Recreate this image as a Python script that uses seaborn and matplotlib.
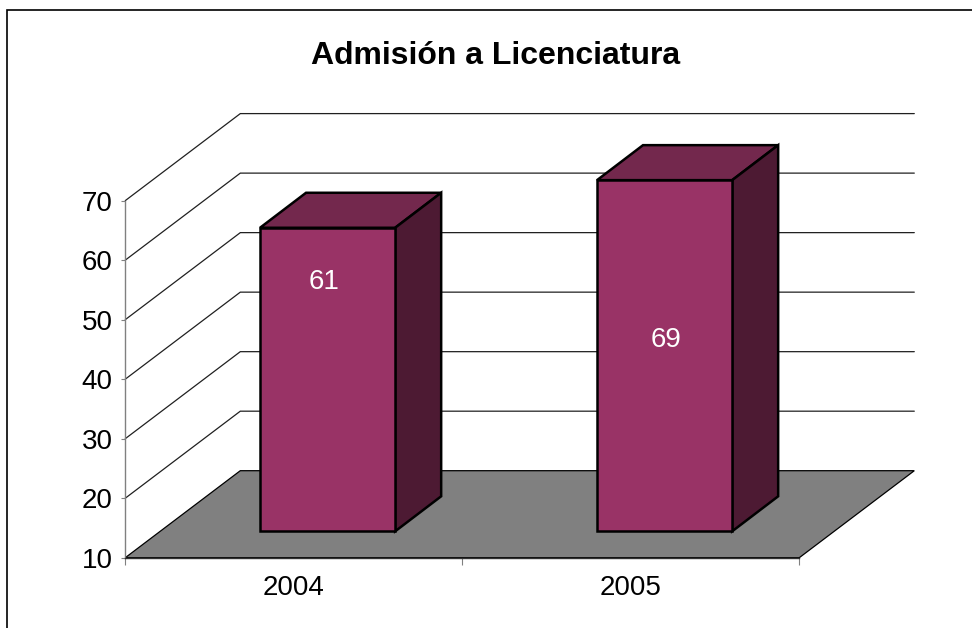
import matplotlib
matplotlib.use("Agg")
import matplotlib.pyplot as plt
import seaborn as sns
import pandas as pd
from matplotlib.lines import Line2D
from matplotlib.patches import Polygon

years = ["2004", "2005"]
values = [61, 69]
y_ticks = [10, 20, 30, 40, 50, 60, 70]
title = "Admisión a Licenciatura"

W, H = 972, 628
sns.set_theme(style="white")
plt.rcParams["font.family"] = ["Liberation Sans", "DejaVu Sans"]
plt.rcParams["text.color"] = "black"

fig = plt.figure(figsize=(W / 100, H / 100), dpi=100, facecolor="white")
L, R, T, B = 125.3, 799.3, 200.6, 557.7
ax = fig.add_axes([L / W, 1 - B / H, (R - L) / W, (B - T) / H])
ax.patch.set_alpha(0)

px_x = (R - L) / 2          # pixels per category
px_y = (B - T) / 60         # pixels per value unit
ddx, ddy = 115 / px_x, 87 / px_y          # wall depth
bdx, bdy = 33.8 / px_x, 26.4 / px_y       # bar front offset
cdx, cdy = 46 / px_x, 35 / px_y           # bar depth
base = y_ticks[0]
x0, x1 = -0.5, 1.5
EDGE = 1.8

df = pd.DataFrame({"year": years, "value": values})
sns.barplot(data=df, x="year", y="value", color="#993366", saturation=1,
            width=0.401, edgecolor="black", linewidth=EDGE, ax=ax, zorder=5)
ax.set_xlim(x0, x1)
ax.set_ylim(base, y_ticks[-1])
ax.set_xlabel("")
ax.set_ylabel("")

# floor
ax.add_patch(Polygon([(x0, base), (x1, base), (x1 + ddx, base + ddy), (x0 + ddx, base + ddy)],
                     closed=True, facecolor="#808080", edgecolor="black", linewidth=0.9,
                     clip_on=False, zorder=1))
# walls
for t in y_ticks[1:]:
    ax.plot([x0, x0 + ddx, x1 + ddx], [t, t + ddy, t + ddy], color="#202020",
            linewidth=0.9, clip_on=False, zorder=0.5, solid_joinstyle="miter")

# 3D bars
for p, v in zip(list(ax.patches), values):
    xa = p.get_x() + bdx
    xb = xa + p.get_width()
    ya, yb = base + bdy, v + bdy
    p.set_x(xa)
    p.set_y(ya)
    p.set_height(yb - ya)
    p.set_clip_on(False)
    p.set_joinstyle("miter")
    ax.add_patch(Polygon([(xa, yb), (xb, yb), (xb + cdx, yb + cdy), (xa + cdx, yb + cdy)], closed=True,
                         facecolor="#73284D", edgecolor="black", linewidth=EDGE, clip_on=False, zorder=4))
    ax.add_patch(Polygon([(xb, ya), (xb, yb), (xb + cdx, yb + cdy), (xb + cdx, ya + cdy)], closed=True,
                         facecolor="#4D1A33", edgecolor="black", linewidth=EDGE, clip_on=False, zorder=4))

# data labels
fig.text(324.5 / W, 1 - 282 / H, str(values[0]), color="white", fontsize=20, ha="center", va="center", zorder=10)
fig.text(666.5 / W, 1 - 340 / H, str(values[1]), color="white", fontsize=20, ha="center", va="center", zorder=10)

# axes
sns.despine(ax=ax, top=True, right=True)
ax.spines["left"].set_color("#808080")
ax.spines["left"].set_linewidth(1.0)
ax.spines["bottom"].set_color("#303030")
ax.spines["bottom"].set_linewidth(1.0)
ax.spines["left"].set_zorder(2)
ax.spines["bottom"].set_zorder(2)
ax.set_yticks(y_ticks)
ax.set_xticks([0, 1], years)
ax.set_xticks([x0, 0.5, x1], minor=True)
ax.tick_params(axis="y", which="major", length=3, width=0.8, color="#808080", labelsize=20,
               labelcolor="black", pad=6, left=True)
ax.tick_params(axis="x", which="major", length=0, labelsize=20, labelcolor="black", pad=12.5)
ax.tick_params(axis="x", which="minor", length=5, width=0.8, color="#808080", bottom=True)

# title and frame
fig.text(496 / W, 1 - 55.5 / H, title, fontsize=23, fontweight="bold", ha="center", va="center", color="black")
fig.add_artist(Line2D([7.4 / W, 7.4 / W, 1], [0, 1 - 10.2 / H, 1 - 10.2 / H], color="black", linewidth=1.2,
                      solid_joinstyle="miter"))

fig.savefig("out.png", dpi=100, facecolor="white")
